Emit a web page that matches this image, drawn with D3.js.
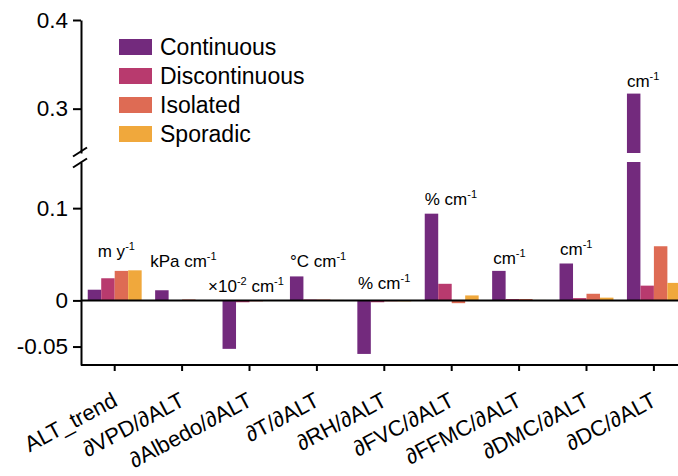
<!DOCTYPE html>
<html>
<head>
<meta charset="utf-8">
<script src="https://cdn.jsdelivr.net/npm/d3@7"></script>
<style>
  html, body { margin: 0; padding: 0; background: #fff; }
  svg { display: block; font-family: "Liberation Sans", Arial, sans-serif; }
</style>
</head>
<body>
<svg id="chart" width="678" height="476"></svg>
<script>
// Sensitivity of active-layer thickness per permafrost zone
const categories = ["ALT_trend", "∂VPD/∂ALT", "∂Albedo/∂ALT", "∂T/∂ALT", "∂RH/∂ALT",
                    "∂FVC/∂ALT", "∂FFMC/∂ALT", "∂DMC/∂ALT", "∂DC/∂ALT"];
const seriesNames = ["Continuous", "Discontinuous", "Isolated", "Sporadic"];
const continuous    = [0.0116, 0.0110, -0.0525, 0.0260, -0.0580, 0.0940, 0.0320, 0.0400, 0.3170];
const discontinuous = [0.0240, 0.0003, -0.0020, 0.0010, -0.0020, 0.0180, 0.0015, 0.0025, 0.0160];
const isolated      = [0.0320, 0.0010, -0.0010, 0.0010, -0.0010, -0.0030, 0.0015, 0.0072, 0.0587];
const sporadic      = [0.0326, 0.0000, -0.0005, 0.0005, -0.0010, 0.0054, 0.0005, 0.0030, 0.0190];
const seriesValues = [continuous, discontinuous, isolated, sporadic];

// unit of each variable; "^n" marks a superscript exponent
const units = ["m y^-1", "kPa cm^-1", "×10^-2 cm^-1", "°C cm^-1", "% cm^-1",
               "% cm^-1", "cm^-1", "cm^-1", "cm^-1"];
// where each unit label sits: value level of its baseline and shift from the group start
const unitLevel = [0.0466, 0.0358, 0.0087, 0.0358, 0.012, 0.103, 0.040, 0.049, 0.3245];
const unitShift = [10, -5, -14.5, 0, 0.7, 0, 1, 0.5, 0];

const lowTicks = [-0.05, 0, 0.1];
const highTicks = [0.3, 0.4];

const colors = ["#732a7d", "#b83a6e", "#de6b54", "#f0a83c"];

const svg = d3.select("#chart");
const axisX = 81, baseY = 365;

// broken value axis: lower segment and upper segment
const lowDomain = [-0.07, 0.15], highDomain = [0.25, 0.4];
const yLow = d3.scaleLinear().domain(lowDomain).range([baseY, 162]);
const yHigh = d3.scaleLinear().domain(highDomain).range([153, 20]);
const yAny = v => v > lowDomain[1] ? yHigh(v) : yLow(v);

const x = d3.scaleBand().domain(categories)
  .range([axisX, axisX + 9 * 67.4]).paddingInner(0.2).paddingOuter(0.1);
const xs = d3.scaleBand().domain(seriesNames).range([0, x.bandwidth()]);

// bars
const rows = [];
seriesValues.forEach((vals, j) => vals.forEach((v, i) => {
  const bx = x(categories[i]) + xs(seriesNames[j]);
  if (v <= lowDomain[1]) {
    rows.push({ x: bx, y0: yLow(Math.max(v, 0)), y1: yLow(Math.min(v, 0)), c: colors[j] });
  } else {
    rows.push({ x: bx, y0: yLow(lowDomain[1]), y1: yLow(0), c: colors[j] });
    rows.push({ x: bx, y0: yHigh(v), y1: yHigh(highDomain[0]), c: colors[j] });
  }
}));
svg.append("g").selectAll("rect").data(rows).join("rect")
  .attr("x", d => d.x).attr("width", xs.bandwidth())
  .attr("y", d => d.y0).attr("height", d => Math.max(d.y1 - d.y0, 0.6))
  .attr("fill", d => d.c);

// zero line
svg.append("line")
  .attr("x1", axisX).attr("x2", 678).attr("y1", yLow(0)).attr("y2", yLow(0))
  .attr("stroke", "#000").attr("stroke-width", 2);

// y axes
const fmt = d => String(d);
function styleAxis(g, size) {
  g.selectAll("path, line").attr("stroke", "#000").attr("stroke-width", 2);
  g.selectAll("text").attr("fill", "#000").style("font-size", size + "px")
    .style("font-family", "'Liberation Sans', Arial, sans-serif");
}
svg.append("g").attr("transform", `translate(${axisX},0)`)
  .call(d3.axisLeft(yLow).tickValues(lowTicks).tickFormat(fmt).tickSize(8).tickSizeOuter(0).tickPadding(5))
  .call(styleAxis, 22.5);
svg.append("g").attr("transform", `translate(${axisX},0)`)
  .call(d3.axisLeft(yHigh).tickValues(highTicks).tickFormat(fmt).tickSize(8).tickSizeOuter(0).tickPadding(5))
  .call(styleAxis, 22.5);

// break marks
[yHigh(highDomain[0]) - 1, yLow(lowDomain[1]) + 1].forEach(cy => {
  svg.append("line")
    .attr("x1", axisX - 8).attr("y1", cy + 4.5).attr("x2", axisX + 6).attr("y2", cy - 4.5)
    .attr("stroke", "#000").attr("stroke-width", 2);
});

// x axis
const gx = svg.append("g").attr("transform", `translate(0,${baseY})`)
  .call(d3.axisBottom(x).tickSize(6).tickSizeOuter(0).tickPadding(0));
gx.select(".domain").attr("d", `M${axisX},0H${x.range()[1]}`);
styleAxis(gx, 22);
gx.selectAll("text")
  .attr("text-anchor", "end")
  .attr("dy", null)
  .attr("y", null)
  .attr("transform", "translate(4,40) rotate(-28)");

// unit labels
const ug = svg.append("g").style("font-size", "17px").attr("fill", "#000");
units.forEach((u, i) => {
  const t = ug.append("text")
    .attr("x", x(categories[i]) + unitShift[i])
    .attr("y", yAny(unitLevel[i]));
  const parts = u.split(/\^(-?\d+)/);
  parts.forEach((p, k) => {
    if (!p) return;
    if (k % 2 === 0) {
      t.append("tspan").text(p).attr("dy", k > 0 ? 7 : 0).attr("font-size", "17px");
    } else {
      t.append("tspan").text(p).attr("dy", -7).attr("font-size", "11px");
    }
  });
});

// legend
const lg = svg.append("g").attr("transform", "translate(119,39)");
seriesNames.forEach((n, j) => {
  const row = lg.append("g").attr("transform", `translate(0,${j * 29})`);
  row.append("rect").attr("width", 33).attr("height", 16).attr("fill", colors[j]);
  row.append("text").attr("x", 41).attr("y", 16).text(n)
    .style("font-size", "23px").attr("fill", "#000");
});
</script>
</body>
</html>
